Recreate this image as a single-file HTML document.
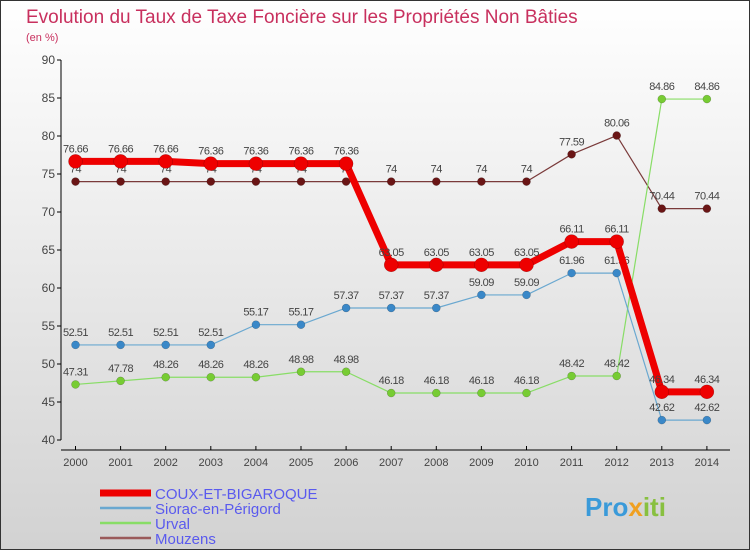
<!DOCTYPE html>
<html><head><meta charset="utf-8"><style>
html,body{margin:0;padding:0}
body{width:750px;height:550px;overflow:hidden;font-family:"Liberation Sans",sans-serif}
</style></head><body>
<svg id="c" width="750" height="550" xmlns="http://www.w3.org/2000/svg">
<defs><linearGradient id="bg" x1="0" y1="0" x2="0" y2="1"><stop offset="0" stop-color="#ffffff"/><stop offset="1" stop-color="#d2d2d2"/></linearGradient></defs>
<rect x="0.5" y="0.5" width="749" height="549" fill="url(#bg)" stroke="#333"/>
<text x="26" y="23" font-size="19" fill="#c8305e">Evolution du Taux de Taxe Foncière sur les Propriétés Non Bâties</text>
<text x="26" y="41" font-size="11" fill="#c8305e">(en %)</text>
<g id="axes"></g><g id="series"></g><g id="legend"></g>
<text x="585" y="516" font-size="26" font-weight="bold" fill="#3a9ad9">Pro<tspan fill="#f0a020">x</tspan><tspan fill="#88c040">iti</tspan></text>
</svg>
<script>
const years=[2000,2001,2002,2003,2004,2005,2006,2007,2008,2009,2010,2011,2012,2013,2014];
const yTicks=[40,45,50,55,60,65,70,75,80,85,90];
const coux=[76.66,76.66,76.66,76.36,76.36,76.36,76.36,63.05,63.05,63.05,63.05,66.11,66.11,46.34,46.34];
const siorac=[52.51,52.51,52.51,52.51,55.17,55.17,57.37,57.37,57.37,59.09,59.09,61.96,61.96,42.62,42.62];
const urval=[47.31,47.78,48.26,48.26,48.26,48.98,48.98,46.18,46.18,46.18,46.18,48.42,48.42,84.86,84.86];
const mouzens=[74,74,74,74,74,74,74,74,74,74,74,77.59,80.06,70.44,70.44];
const names=["COUX-ET-BIGAROQUE","Siorac-en-Périgord","Urval","Mouzens"];
const NS="http://www.w3.org/2000/svg";
const xs=i=>75.5+i*45.1;
const ys=v=>440-(v-40)*7.6;
function mk(tag,attrs,parent,text){const e=document.createElementNS(NS,tag);for(const k in attrs)e.setAttribute(k,attrs[k]);if(text!==undefined)e.textContent=text;parent.appendChild(e);return e;}
const ax=document.getElementById('axes');
let a=mk('line',{x1:61,y1:60,x2:61,y2:440,stroke:'#000'},ax);


a=mk('line',{x1:61,y1:450,x2:730,y2:450,stroke:'#000'},ax);


yTicks.forEach(v=>{mk('line',{x1:57,y1:ys(v),x2:61,y2:ys(v),stroke:'#000'},ax);
 const t=mk('text',{x:55,y:ys(v)+4,'font-size':12,fill:'#444','text-anchor':'end'},ax,v);
 
 });
years.forEach((y,i)=>{mk('line',{x1:xs(i),y1:446,x2:xs(i),y2:450,stroke:'#000'},ax);
 const t=mk('text',{x:xs(i),y:466,'font-size':11,fill:'#444','text-anchor':'middle'},ax,y);
 
 });
const sg=document.getElementById('series');
const defs=[[mouzens,'#7a3a3a','#6a1515',1.2,4,'mouzens'],[urval,'#88dd66','#77cc33',1.2,4,'urval'],[siorac,'#6aa8d0','#3a88c8',1.2,4,'siorac'],[coux,'#ee0000','#ee0000',7,7,'coux']];
defs.forEach(([d,lc,pc,w,r,nm])=>{
 const g=mk('g',{},sg);
 
 
 const l=mk('polyline',{points:d.map((v,i)=>xs(i)+','+ys(v)).join(' '),fill:'none',stroke:lc,'stroke-width':w,'stroke-linejoin':'round'},g);
 
 
 d.forEach((v,i)=>{const c=mk('circle',{cx:xs(i),cy:ys(v),r:r,fill:pc,stroke:'rgba(0,0,0,0.3)','stroke-width':0.5},g);
  
  
  const t=mk('text',{x:xs(i),y:ys(v)-9,'font-size':11,fill:'#444','text-anchor':'middle','letter-spacing':'-0.5'},g,v);
  
  });
});
const lg=document.getElementById('legend');
const lcol=['#ee0000','#6aa8d0','#88dd66','#9a5a5a'],lw=[7,2.5,2.5,2.5];
names.forEach((n,i)=>{const y=493+i*15;
 const g=mk('g',{},lg);
 
 
 mk('line',{x1:100,y1:y,x2:151,y2:y,stroke:lcol[i],'stroke-width':lw[i]},g);
 mk('text',{x:155,y:y+6,'font-size':15,fill:'#5a5aee'},g,n);});
</script>
</body></html>
